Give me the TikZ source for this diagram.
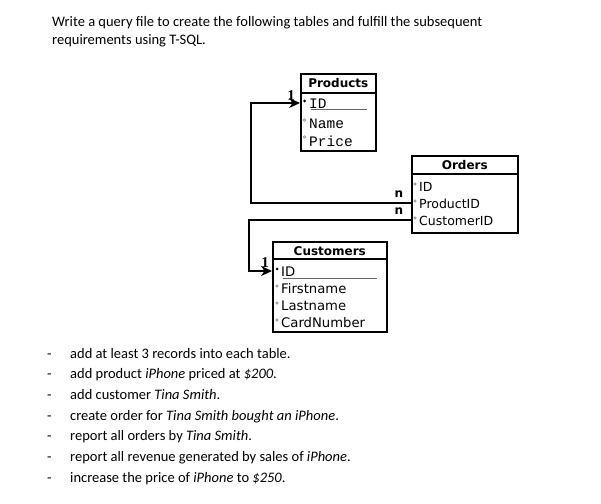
\documentclass[tikz,border=0pt]{standalone}
\usepackage{fontspec}
\setmainfont{Carlito}
\newfontfamily\headfont{DejaVu Sans}
\newfontfamily\fieldfont{DejaVu Sans}
\newfontfamily\prodfont{Liberation Mono}
\newfontfamily\cardfont{Liberation Serif}
\usetikzlibrary{arrows.meta,calc}

\tikzset{
    tbl/.style={draw, line width=1.6pt, anchor=north west, inner sep=0pt},
    hdr/.style={font=\headfont\bfseries\fontsize{12}{14}\selectfont, inner sep=0pt},
    fld/.style={anchor=west, inner sep=0pt, font=\fieldfont\fontsize{12.5}{14}\selectfont},
    cfld/.style={fld, font=\fieldfont\fontsize{13.2}{15}\selectfont},
    pfld/.style={anchor=west, inner sep=0pt, font=\prodfont\fontsize{14.5}{16}\selectfont},
    link/.style={line width=1.6pt, -{Stealth[length=11pt,width=10pt]}},
    card/.style={font=\cardfont\bfseries\fontsize{15}{16}\selectfont, inner sep=0pt},
    mult/.style={font=\headfont\bfseries\fontsize{12}{14}\selectfont, inner sep=0pt},
    txt/.style={anchor=base west, inner sep=0pt, font=\fontsize{14.5}{16}\selectfont},
}

\begin{document}
\begin{tikzpicture}[x=1pt, y=-1pt]
    \useasboundingbox[fill=white] (0,0) rectangle (601,503);

    %% Intro text
    \node[txt] (intro1) at (52,27) {Write a query file to create the following tables and fulfill the subsequent};
    \node[txt] (intro2) at (52,45) {requirements using T-SQL.};

    %% Products table
    \node[tbl, minimum width=75pt, minimum height=77pt] (products) at (300,73) {};
    \draw[line width=1.2pt] ($(products.north west)+(0,20)$) -- ($(products.north east)+(0,20)$);
    \node[hdr] (p-head) at ($(products.north)+(0,10.5)$) {Products};
    \node[pfld] (p-id)    at (309,104) {ID};
    \node[pfld] (p-name)  at (309,124) {Name};
    \node[pfld] (p-price) at (309,141) {Price};
    \draw[gray!80!black, line width=0.8pt] (311,109) -- (367,109);
    \fill (304.5,101) circle (1.5pt);
    \draw[gray, line width=0.5pt] (304.5,120) circle (1.3pt);
    \draw[gray, line width=0.5pt] (304.5,137) circle (1.3pt);

    %% Orders table
    \node[tbl, minimum width=106pt, minimum height=77pt] (orders) at (411,155) {};
    \draw[line width=1.2pt] ($(orders.north west)+(0,19)$) -- ($(orders.north east)+(0,19)$);
    \node[hdr] (o-head) at ($(orders.north)+(0,10)$) {Orders};
    \node[fld] (o-id)   at (419,187) {ID};
    \node[fld] (o-pid)  at (419,204) {ProductID};
    \node[fld] (o-cid)  at (419,221) {CustomerID};
    \foreach \y in {184,201,218}
        \draw[gray, line width=0.5pt] (415,\y) circle (1.3pt);

    %% Customers table
    \node[tbl, minimum width=114pt, minimum height=90pt] (customers) at (272,241) {};
    \draw[line width=1.2pt] ($(customers.north west)+(0,18)$) -- ($(customers.north east)+(0,18)$);
    \node[hdr] (c-head) at ($(customers.north)+(0,10)$) {Customers};
    \node[cfld] (c-id)    at (281,272) {ID};
    \node[cfld] (c-first) at (281,289) {Firstname};
    \node[cfld] (c-last)  at (281,306) {Lastname};
    \node[cfld] (c-card)  at (281,323) {CardNumber};
    \draw[gray!80!black, line width=0.8pt] (283,278) -- (377,278);
    \fill (277,269) circle (1.5pt);
    \foreach \y in {286,303,320}
        \draw[gray, line width=0.5pt] (277,\y) circle (1.3pt);

    %% Relations
    \coordinate (bendP) at (251,203);
    \coordinate (bendC) at (249,220);
    \draw[link] (orders.west |- bendP) -- (bendP) |- (products.west |- 0,103);
    \draw[link] (orders.west |- bendC) -- (bendC) |- (customers.west |- 0,271);
    \node[card] (one-p) at (291,96) {1};
    \node[card] (one-c) at (265,263) {1};
    \node[mult] (n-p) at (399,194) {n};
    \node[mult] (n-c) at (399,211) {n};

    %% Requirements
    \foreach \item [count=\i] in {
        {add at least 3 records into each table.},
        {add product \textit{iPhone} priced at \textit{\$200}.},
        {add customer \textit{Tina Smith}.},
        {create order for \textit{Tina Smith bought an iPhone}.},
        {report all orders by \textit{Tina Smith}.},
        {report all revenue generated by sales of \textit{iPhone}.},
        {increase the price of \textit{iPhone} to \textit{\$250}.}} {
        \node[txt] (dash\i) at (47,{358+20.7*(\i-1)}) {-};
        \node[txt] (req\i) at (70,{358+20.7*(\i-1)}) {\item};
    }
\end{tikzpicture}
\end{document}
